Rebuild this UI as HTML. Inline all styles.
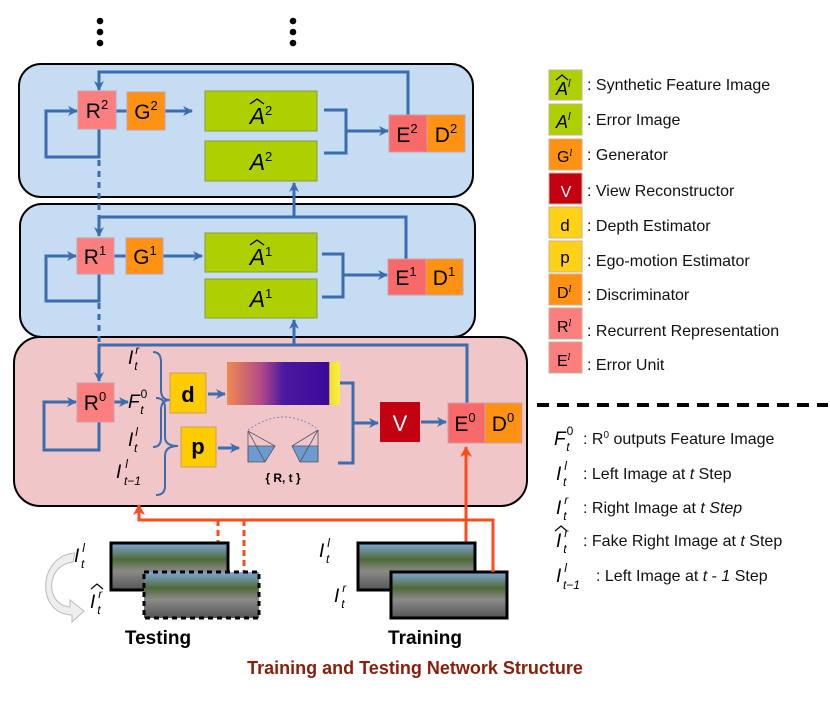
<!DOCTYPE html>
<html><head><meta charset="utf-8"><style>
html,body{margin:0;padding:0;background:#fff}
svg{display:block}
text{font-family:"Liberation Sans",sans-serif}
.m{font-family:"DejaVu Serif","Liberation Serif",serif;font-style:italic}
.a{font-family:"Liberation Sans",sans-serif;font-style:italic}
</style></head><body>
<svg width="830" height="703" viewBox="0 0 830 703" xmlns="http://www.w3.org/2000/svg">
<defs>
<marker id="ab" markerWidth="10" markerHeight="10" refX="9" refY="5" orient="auto" markerUnits="userSpaceOnUse"><path d="M0,0 L10,5 L0,10 L3,5 z" fill="#3a6cb0"/></marker>
<marker id="ao" markerWidth="12" markerHeight="12" refX="10" refY="6" orient="auto" markerUnits="userSpaceOnUse"><path d="M0,0 L11,6 L0,12 L3,6 z" fill="#ff4a1a"/></marker>
<linearGradient id="depth" x1="0" x2="1" y1="0" y2="0">
<stop offset="0" stop-color="#f08a50"/><stop offset="0.3" stop-color="#b44a8a"/><stop offset="0.5" stop-color="#4a1aa0"/><stop offset="0.9" stop-color="#3a0a9a"/><stop offset="0.91" stop-color="#f0e030"/><stop offset="1" stop-color="#f8f040"/></linearGradient>
<linearGradient id="scene" x1="0" x2="0" y1="0" y2="1">
<stop offset="0" stop-color="#7fa8d8"/><stop offset="0.35" stop-color="#4f6a3a"/><stop offset="0.6" stop-color="#8a8a88"/><stop offset="1" stop-color="#555"/></linearGradient>
</defs>

<g fill="#000"><circle cx="100" cy="21" r="3.3"/><circle cx="100" cy="32" r="3.3"/><circle cx="100" cy="43" r="3.3"/>
<circle cx="293" cy="21" r="3.3"/><circle cx="293" cy="32" r="3.3"/><circle cx="293" cy="43" r="3.3"/></g>

<rect x="19" y="64" width="454" height="133" rx="22" fill="#c6dcf2" stroke="#000" stroke-width="2"/>
<rect x="20" y="204" width="455" height="133" rx="22" fill="#c6dcf2" stroke="#000" stroke-width="2"/>
<rect x="14" y="337" width="513" height="169" rx="26" fill="#f1c6c9" stroke="#000" stroke-width="2"/>

<g stroke="#3a6cb0" stroke-width="3" fill="none">
<polyline points="408,115 408,72 99,72 99,90" marker-end="url(#ab)"/>
<polyline points="99,128 99,157 46,157 46,111 77,111" marker-end="url(#ab)"/>
<line x1="116" y1="111" x2="128" y2="111"/>
<line x1="165" y1="111" x2="192" y2="111" marker-end="url(#ab)"/>
<polyline points="324,110 346,110 346,153 324,153"/>
<line x1="346" y1="131" x2="388" y2="131" marker-end="url(#ab)"/>
<line x1="99" y1="160" x2="99" y2="220" stroke-dasharray="6,5"/>
<polyline points="406,259 406,217 99,217 99,236" marker-end="url(#ab)"/>
<line x1="294" y1="217" x2="294" y2="183" marker-end="url(#ab)"/>
<polyline points="99,274 99,301 46,301 46,256 76,256" marker-end="url(#ab)"/>
<line x1="114" y1="256" x2="126" y2="256"/>
<line x1="163" y1="256" x2="202" y2="256" marker-end="url(#ab)"/>
<polyline points="322,254 343,254 343,297 322,297"/>
<line x1="343" y1="275" x2="387" y2="275" marker-end="url(#ab)"/>
<line x1="99" y1="303" x2="99" y2="345" stroke-dasharray="6,5"/>
<polyline points="467,403 467,345 99,345 99,381" marker-end="url(#ab)"/>
<line x1="294" y1="345" x2="294" y2="320" marker-end="url(#ab)"/>
<polyline points="99,422 99,450 44,450 44,402 76,402" marker-end="url(#ab)"/>
<line x1="114" y1="402" x2="128" y2="402" marker-end="url(#ab)"/>
<line x1="208" y1="394" x2="225" y2="394" marker-end="url(#ab)"/>
<line x1="218" y1="448" x2="239" y2="448" marker-end="url(#ab)"/>
<polyline points="340,383 353,383 353,463 338,463"/>
<line x1="353" y1="423" x2="378" y2="423" marker-end="url(#ab)"/>
<line x1="421" y1="422" x2="446" y2="422" marker-end="url(#ab)"/>
<path d="M153,352 Q161,352 161,362 L161,390 Q161,400 170,400 Q161,400 161,410 L161,438 Q161,447 153,447" stroke-width="2"/>
<path d="M156,398 Q165,398 165,408 L165,437 Q165,446 178,446 Q165,446 165,456 L165,486 Q165,495 156,495" stroke-width="2"/>
</g>

<rect x="78" y="91" width="38" height="38" fill="#fb7f7f" stroke="#c8a0a8"/>
<text x="97" y="118" font-size="21" text-anchor="middle">R<tspan font-size="13" dy="-9">2</tspan></text>
<rect x="127" y="92" width="38" height="38" fill="#ff9212" stroke="#c8a0a8"/>
<text x="146" y="119" font-size="21" text-anchor="middle">G<tspan font-size="13" dy="-9">2</tspan></text>
<rect x="205" y="91" width="112" height="40" fill="#aed000" stroke="#8a9a40"/>
<text x="261" y="124" font-size="23" class="a" text-anchor="middle">A<tspan font-size="13" font-style="normal" dy="-9">2</tspan></text>
<path d="M250,104 L257,99 L264,104" stroke="#000" stroke-width="1.3" fill="none"/>
<rect x="205" y="141" width="112" height="40" fill="#aed000" stroke="#8a9a40"/>
<text x="261" y="170" font-size="23" class="a" text-anchor="middle">A<tspan font-size="13" font-style="normal" dy="-9">2</tspan></text>
<rect x="389" y="115" width="38" height="37" fill="#f86a6a" stroke="#c8a0a8"/>
<text x="407" y="142" font-size="21" text-anchor="middle">E<tspan font-size="13" dy="-9">2</tspan></text>
<rect x="427" y="115" width="38" height="37" fill="#ff9212" stroke="#c8a0a8"/>
<text x="446" y="142" font-size="21" text-anchor="middle">D<tspan font-size="13" dy="-9">2</tspan></text>

<rect x="77" y="238" width="37" height="36" fill="#fb7f7f" stroke="#c8a0a8"/>
<text x="95" y="264" font-size="21" text-anchor="middle">R<tspan font-size="13" dy="-9">1</tspan></text>
<rect x="126" y="238" width="37" height="36" fill="#ff9212" stroke="#c8a0a8"/>
<text x="145" y="264" font-size="21" text-anchor="middle">G<tspan font-size="13" dy="-9">1</tspan></text>
<rect x="205" y="233" width="112" height="39" fill="#aed000" stroke="#8a9a40"/>
<text x="261" y="265" font-size="23" class="a" text-anchor="middle">A<tspan font-size="13" font-style="normal" dy="-9">1</tspan></text>
<path d="M250,245 L257,240 L264,245" stroke="#000" stroke-width="1.3" fill="none"/>
<rect x="205" y="279" width="112" height="39" fill="#aed000" stroke="#8a9a40"/>
<text x="261" y="307" font-size="23" class="a" text-anchor="middle">A<tspan font-size="13" font-style="normal" dy="-9">1</tspan></text>
<rect x="388" y="259" width="38" height="36" fill="#f86a6a" stroke="#c8a0a8"/>
<text x="406" y="285" font-size="21" text-anchor="middle">E<tspan font-size="13" dy="-9">1</tspan></text>
<rect x="426" y="259" width="37" height="36" fill="#ff9212" stroke="#c8a0a8"/>
<text x="444" y="285" font-size="21" text-anchor="middle">D<tspan font-size="13" dy="-9">1</tspan></text>

<rect x="77" y="383" width="37" height="39" fill="#fb7f7f" stroke="#c8a0a8"/>
<text x="95" y="410" font-size="21" text-anchor="middle">R<tspan font-size="13" dy="-9">0</tspan></text>
<rect x="170" y="373" width="36" height="40" fill="#ffcc00" stroke="#c8a060"/>
<text x="188" y="402" font-size="22" font-weight="bold" text-anchor="middle">d</text>
<rect x="181" y="427" width="35" height="40" fill="#ffcc00" stroke="#c8a060"/>
<text x="198" y="454" font-size="22" font-weight="bold" text-anchor="middle">p</text>
<rect x="227" y="362" width="113" height="43" fill="url(#depth)"/>
<rect x="380" y="402" width="40" height="40" fill="#c3000f"/>
<text x="400" y="431" font-size="22" fill="#fff" text-anchor="middle">V</text>
<rect x="448" y="403" width="37" height="40" fill="#f86a6a" stroke="#c8a0a8"/>
<text x="465" y="431" font-size="21" text-anchor="middle">E<tspan font-size="13" dy="-9">0</tspan></text>
<rect x="485" y="403" width="37" height="40" fill="#ff9212" stroke="#c8a0a8"/>
<text x="503" y="431" font-size="21" text-anchor="middle">D<tspan font-size="13" dy="-9">0</tspan></text>
<g stroke="#556" stroke-width="0.8" fill="#6b9bd0">
<polygon points="248,446 275,446 265,462 248,462"/>
<line x1="248" y1="431" x2="248" y2="462" fill="none"/><line x1="248" y1="431" x2="275" y2="446"/><line x1="248" y1="431" x2="265" y2="462"/>
<polygon points="292,446 318,446 318,462 300,462"/>
<line x1="318" y1="430" x2="318" y2="462"/><line x1="318" y1="430" x2="292" y2="446"/><line x1="318" y1="430" x2="300" y2="462"/>
</g>
<path d="M248,430 Q283,405 316,428" stroke="#6b8cc0" stroke-width="1" fill="none" stroke-dasharray="2,2"/>
<text x="283" y="482" font-size="12" font-weight="bold" text-anchor="middle">{ R, t }</text>

<g class="m" font-size="19">
<text x="128" y="364">I<tspan font-size="12" dx="2" dy="-10">r</tspan><tspan font-size="12" dx="-5" dy="16">t</tspan></text>
<text x="128" y="408">F<tspan font-size="12" font-style="normal" dx="1" dy="-10">0</tspan><tspan font-size="12" dx="-7" dy="16">t</tspan></text>
<text x="128" y="446">I<tspan font-size="12" dx="2" dy="-10">l</tspan><tspan font-size="12" dx="-4" dy="16">t</tspan></text>
<text x="116" y="478">I<tspan font-size="12" dx="4" dy="-10">l</tspan><tspan font-size="12" dx="-4" dy="17">t−1</tspan></text>
</g>

<g stroke="#ff4a1a" stroke-width="3" fill="none">
<polyline points="493,572 493,520 139,520 139,505" marker-end="url(#ao)"/>
<line x1="466" y1="544" x2="466" y2="447" marker-end="url(#ao)"/>
<line x1="218" y1="520" x2="218" y2="543" stroke-dasharray="6,4"/>
<line x1="244" y1="520" x2="244" y2="572" stroke-dasharray="6,4"/>
</g>

<rect x="111" y="543" width="117" height="47" fill="url(#scene)" stroke="#000" stroke-width="3"/>
<rect x="144" y="572" width="115" height="46" fill="url(#scene)" stroke="#000" stroke-width="3" stroke-dasharray="5,4"/>
<rect x="358" y="543" width="117" height="47" fill="url(#scene)" stroke="#000" stroke-width="3"/>
<rect x="391" y="572" width="116" height="46" fill="url(#scene)" stroke="#000" stroke-width="3"/>
<line x1="493" y1="572" x2="493" y2="520" stroke="#ff4a1a" stroke-width="3"/>

<path d="M73,562 C45,565 45,605 70,607 L70,600 L84,611 L72,622 L72,615 C35,614 38,555 75,553 z" fill="#eee" stroke="#bbb"/>

<g class="m" font-size="19">
<text x="74" y="562">I<tspan font-size="12" dx="3" dy="-10">l</tspan><tspan font-size="12" dx="-4" dy="16">t</tspan></text>
<text x="90" y="608">I<tspan font-size="12" dx="3" dy="-10">r</tspan><tspan font-size="12" dx="-5" dy="16">t</tspan></text>
<text x="319" y="557">I<tspan font-size="12" dx="3" dy="-10">l</tspan><tspan font-size="12" dx="-4" dy="16">t</tspan></text>
<text x="334" y="602">I<tspan font-size="12" dx="3" dy="-10">r</tspan><tspan font-size="12" dx="-5" dy="16">t</tspan></text>
</g>
<path d="M91,589 L97,584 L103,589" stroke="#000" stroke-width="1.2" fill="none"/>

<text x="158" y="644" font-size="19" font-weight="bold" text-anchor="middle">Testing</text>
<text x="425" y="644" font-size="19" font-weight="bold" text-anchor="middle">Training</text>
<text x="415" y="674" font-size="18" font-weight="bold" fill="#8b1e0a" text-anchor="middle">Training and Testing Network Structure</text>

<g stroke="#c8b090">
<rect x="549" y="70" width="33" height="30" fill="#aed000"/>
<rect x="549" y="104" width="33" height="31" fill="#aed000"/>
<rect x="549" y="139" width="33" height="31" fill="#ff9212"/>
<rect x="549" y="173" width="33" height="31" fill="#c3000f"/>
<rect x="549" y="207" width="33" height="31" fill="#ffd218"/>
<rect x="549" y="241" width="33" height="31" fill="#ffd218"/>
<rect x="549" y="274" width="33" height="31" fill="#ff9212"/>
<rect x="549" y="308" width="33" height="31" fill="#fb7f7f"/>
<rect x="549" y="342" width="33" height="31" fill="#fb7f7f"/>
</g>
<text x="556" y="95" font-size="18" class="a">A<tspan font-size="11" dy="-8">l</tspan></text>
<path d="M556,80 L562,75 L568,80" stroke="#000" stroke-width="1.2" fill="none"/>
<text x="556" y="128" font-size="18" class="a">A<tspan font-size="11" dy="-8">l</tspan></text>
<text x="557" y="162" font-size="16">G<tspan font-size="9" class="m" dy="-6">l</tspan></text>
<text x="566" y="197" font-size="16" fill="#fff" text-anchor="middle">V</text>
<text x="565" y="231" font-size="17" text-anchor="middle">d</text>
<text x="565" y="263" font-size="17" text-anchor="middle">p</text>
<text x="557" y="298" font-size="16">D<tspan font-size="9" class="m" dy="-6">l</tspan></text>
<text x="557" y="332" font-size="16">R<tspan font-size="9" class="m" dy="-6">l</tspan></text>
<text x="557" y="366" font-size="16">E<tspan font-size="9" class="m" dy="-6">l</tspan></text>
<g font-size="16" fill="#111">
<text x="587" y="90">: Synthetic Feature Image</text>
<text x="587" y="125">: Error Image</text>
<text x="587" y="160">: Generator</text>
<text x="587" y="196">: View Reconstructor</text>
<text x="587" y="231">: Depth Estimator</text>
<text x="587" y="266">: Ego-motion Estimator</text>
<text x="587" y="300">: Discriminator</text>
<text x="587" y="336">: Recurrent Representation</text>
<text x="587" y="370">: Error Unit</text>
</g>
<line x1="537" y1="405" x2="828" y2="405" stroke="#000" stroke-width="4" stroke-dasharray="12,8"/>
<g class="m" font-size="19">
<text x="554" y="445">F<tspan font-size="12" font-style="normal" dx="1" dy="-10">0</tspan><tspan font-size="12" dx="-7" dy="16">t</tspan></text>
<text x="556" y="480">I<tspan font-size="12" dx="3" dy="-10">l</tspan><tspan font-size="12" dx="-4" dy="16">t</tspan></text>
<text x="556" y="514">I<tspan font-size="12" dx="3" dy="-10">r</tspan><tspan font-size="12" dx="-5" dy="16">t</tspan></text>
<text x="556" y="547">I<tspan font-size="12" dx="3" dy="-10">r</tspan><tspan font-size="12" dx="-5" dy="16">t</tspan></text>
<text x="556" y="582">I<tspan font-size="12" dx="3" dy="-10">l</tspan><tspan font-size="12" dx="-4" dy="17">t−1</tspan></text>
</g>
<path d="M555,531 L561,526 L567,531" stroke="#000" stroke-width="1.2" fill="none"/>
<g font-size="16" fill="#111">
<text x="583" y="444">: R<tspan font-size="10" dy="-6">0</tspan><tspan dy="6"> outputs Feature Image</tspan></text>
<text x="583" y="479">: Left Image at <tspan font-style="italic">t</tspan> Step</text>
<text x="583" y="513">: Right Image at <tspan font-style="italic">t Step</tspan></text>
<text x="583" y="546">: Fake Right Image at <tspan font-style="italic">t</tspan> Step</text>
<text x="596" y="581">: Left Image at <tspan font-style="italic">t</tspan> - <tspan font-style="italic">1</tspan> Step</text>
</g>
</svg>
</body></html>
